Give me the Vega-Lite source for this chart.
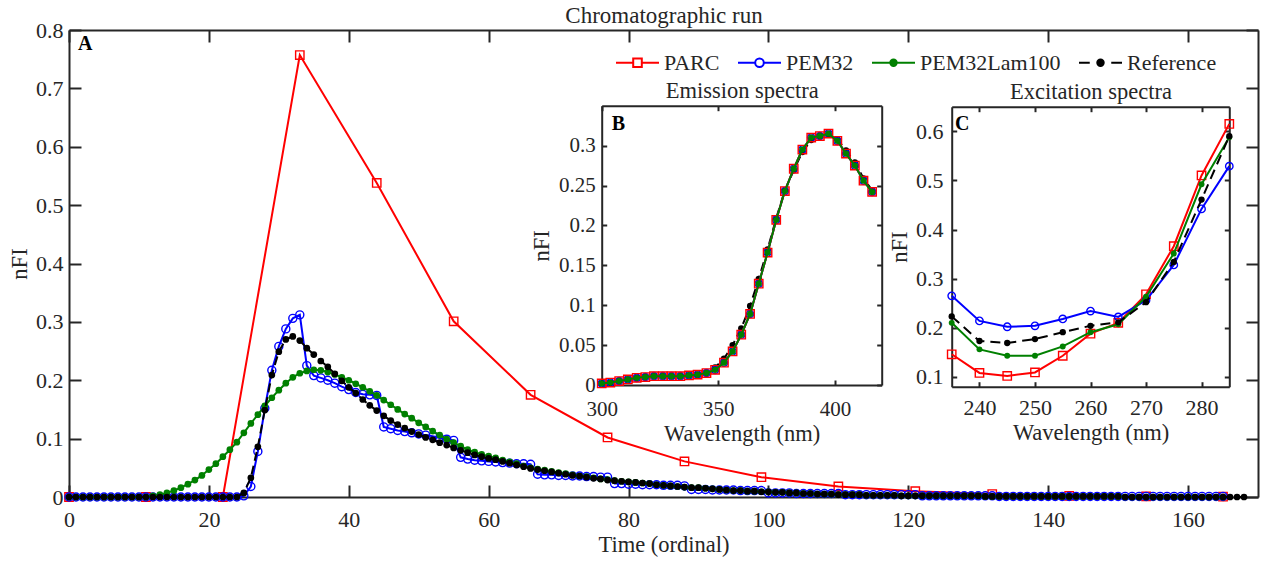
{
"$schema": "https://vega.github.io/schema/vega-lite/v6.json",
"width": 1189, "height": 467,
"autosize": {"type": "none"},
"padding": {"left": 69, "top": 30, "right": 8, "bottom": 66},
"config": {
  "font": "Liberation Serif",
  "view": {"stroke": null},
  "axis": {"grid": false, "domainColor": "#262626", "domainWidth": 2, "tickColor": "#262626", "tickWidth": 2, "labelColor": "#262626", "titleColor": "#262626", "labelFont": "Liberation Serif", "titleFont": "Liberation Serif", "labelFontSize": 22, "titleFontSize": 22.5, "titleFontWeight": "normal", "labelFlush": false, "labelOverlap": false, "format": "~g"},
  "legend": {"labelFont": "Liberation Serif", "labelFontSize": 22, "labelColor": "#262626"}
},
"datasets": {
"main": [
{"series":"PARC","t":0,"v":0},{"series":"PARC","t":11,"v":0},{"series":"PARC","t":22,"v":0},{"series":"PARC","t":33,"v":0.757},{"series":"PARC","t":44,"v":0.538},{"series":"PARC","t":55,"v":0.301},{"series":"PARC","t":66,"v":0.175},{"series":"PARC","t":77,"v":0.102},{"series":"PARC","t":88,"v":0.061},{"series":"PARC","t":99,"v":0.034},{"series":"PARC","t":110,"v":0.018},{"series":"PARC","t":121,"v":0.010},{"series":"PARC","t":132,"v":0.005},{"series":"PARC","t":143,"v":0.002},{"series":"PARC","t":154,"v":0.001},{"series":"PARC","t":165,"v":0.0005},
{"series":"PEM32","t":0,"v":0},{"series":"PEM32","t":1,"v":0},{"series":"PEM32","t":2,"v":0},{"series":"PEM32","t":3,"v":0},{"series":"PEM32","t":4,"v":0},{"series":"PEM32","t":5,"v":0},{"series":"PEM32","t":6,"v":0},{"series":"PEM32","t":7,"v":0},{"series":"PEM32","t":8,"v":0},{"series":"PEM32","t":9,"v":0},
{"series":"PEM32","t":10,"v":0},{"series":"PEM32","t":11,"v":0},{"series":"PEM32","t":12,"v":0},{"series":"PEM32","t":13,"v":0},{"series":"PEM32","t":14,"v":0},{"series":"PEM32","t":15,"v":0},{"series":"PEM32","t":16,"v":0},{"series":"PEM32","t":17,"v":0},{"series":"PEM32","t":18,"v":0},{"series":"PEM32","t":19,"v":0},
{"series":"PEM32","t":20,"v":0},{"series":"PEM32","t":21,"v":0},{"series":"PEM32","t":22,"v":0},{"series":"PEM32","t":23,"v":0},{"series":"PEM32","t":24,"v":0},{"series":"PEM32","t":25,"v":0.002},{"series":"PEM32","t":26,"v":0.018},{"series":"PEM32","t":27,"v":0.078},{"series":"PEM32","t":28,"v":0.152},{"series":"PEM32","t":29,"v":0.217},
{"series":"PEM32","t":30,"v":0.258},{"series":"PEM32","t":31,"v":0.288},{"series":"PEM32","t":32,"v":0.306},{"series":"PEM32","t":33,"v":0.312},{"series":"PEM32","t":34,"v":0.225},{"series":"PEM32","t":35,"v":0.208},{"series":"PEM32","t":36,"v":0.204},{"series":"PEM32","t":37,"v":0.200},{"series":"PEM32","t":38,"v":0.195},{"series":"PEM32","t":39,"v":0.189},
{"series":"PEM32","t":40,"v":0.184},{"series":"PEM32","t":41,"v":0.179},{"series":"PEM32","t":42,"v":0.176},{"series":"PEM32","t":43,"v":0.175},{"series":"PEM32","t":44,"v":0.174},{"series":"PEM32","t":45,"v":0.120},{"series":"PEM32","t":46,"v":0.117},{"series":"PEM32","t":47,"v":0.114},{"series":"PEM32","t":48,"v":0.112},{"series":"PEM32","t":49,"v":0.110},
{"series":"PEM32","t":50,"v":0.108},{"series":"PEM32","t":51,"v":0.106},{"series":"PEM32","t":52,"v":0.104},{"series":"PEM32","t":53,"v":0.101},{"series":"PEM32","t":54,"v":0.099},{"series":"PEM32","t":55,"v":0.097},{"series":"PEM32","t":56,"v":0.068},{"series":"PEM32","t":57,"v":0.065},{"series":"PEM32","t":58,"v":0.063},{"series":"PEM32","t":59,"v":0.062},
{"series":"PEM32","t":60,"v":0.061},{"series":"PEM32","t":61,"v":0.060},{"series":"PEM32","t":62,"v":0.059},{"series":"PEM32","t":63,"v":0.058},{"series":"PEM32","t":64,"v":0.057},{"series":"PEM32","t":65,"v":0.057},{"series":"PEM32","t":66,"v":0.056},{"series":"PEM32","t":67,"v":0.039},{"series":"PEM32","t":68,"v":0.038},{"series":"PEM32","t":69,"v":0.038},
{"series":"PEM32","t":70,"v":0.037},{"series":"PEM32","t":71,"v":0.037},{"series":"PEM32","t":72,"v":0.036},{"series":"PEM32","t":73,"v":0.036},{"series":"PEM32","t":74,"v":0.035},{"series":"PEM32","t":75,"v":0.035},{"series":"PEM32","t":76,"v":0.034},{"series":"PEM32","t":77,"v":0.034},{"series":"PEM32","t":78,"v":0.023},{"series":"PEM32","t":79,"v":0.023},
{"series":"PEM32","t":80,"v":0.022},{"series":"PEM32","t":81,"v":0.022},{"series":"PEM32","t":82,"v":0.021},{"series":"PEM32","t":83,"v":0.021},{"series":"PEM32","t":84,"v":0.021},{"series":"PEM32","t":85,"v":0.020},{"series":"PEM32","t":86,"v":0.020},{"series":"PEM32","t":87,"v":0.020},{"series":"PEM32","t":88,"v":0.019},{"series":"PEM32","t":89,"v":0.013},
{"series":"PEM32","t":90,"v":0.013},{"series":"PEM32","t":91,"v":0.013},{"series":"PEM32","t":92,"v":0.012},{"series":"PEM32","t":93,"v":0.012},{"series":"PEM32","t":94,"v":0.012},{"series":"PEM32","t":95,"v":0.012},{"series":"PEM32","t":96,"v":0.011},{"series":"PEM32","t":97,"v":0.011},{"series":"PEM32","t":98,"v":0.011},{"series":"PEM32","t":99,"v":0.011},
{"series":"PEM32","t":100,"v":0.007},{"series":"PEM32","t":101,"v":0.007},{"series":"PEM32","t":102,"v":0.007},{"series":"PEM32","t":103,"v":0.007},{"series":"PEM32","t":104,"v":0.006},{"series":"PEM32","t":105,"v":0.006},{"series":"PEM32","t":106,"v":0.006},{"series":"PEM32","t":107,"v":0.006},{"series":"PEM32","t":108,"v":0.006},{"series":"PEM32","t":109,"v":0.006},
{"series":"PEM32","t":110,"v":0.006},{"series":"PEM32","t":111,"v":0.004},{"series":"PEM32","t":112,"v":0.004},{"series":"PEM32","t":113,"v":0.004},{"series":"PEM32","t":114,"v":0.004},{"series":"PEM32","t":115,"v":0.004},{"series":"PEM32","t":116,"v":0.004},{"series":"PEM32","t":117,"v":0.004},{"series":"PEM32","t":118,"v":0.004},{"series":"PEM32","t":119,"v":0.004},
{"series":"PEM32","t":120,"v":0.004},{"series":"PEM32","t":121,"v":0.004},{"series":"PEM32","t":122,"v":0.002},{"series":"PEM32","t":123,"v":0.002},{"series":"PEM32","t":124,"v":0.002},{"series":"PEM32","t":125,"v":0.002},{"series":"PEM32","t":126,"v":0.002},{"series":"PEM32","t":127,"v":0.002},{"series":"PEM32","t":128,"v":0.002},{"series":"PEM32","t":129,"v":0.002},
{"series":"PEM32","t":130,"v":0.002},{"series":"PEM32","t":131,"v":0.002},{"series":"PEM32","t":132,"v":0.002},{"series":"PEM32","t":133,"v":0.001},{"series":"PEM32","t":134,"v":0.001},{"series":"PEM32","t":135,"v":0.001},{"series":"PEM32","t":136,"v":0.001},{"series":"PEM32","t":137,"v":0.001},{"series":"PEM32","t":138,"v":0.001},{"series":"PEM32","t":139,"v":0.001},
{"series":"PEM32","t":140,"v":0.001},{"series":"PEM32","t":141,"v":0.001},{"series":"PEM32","t":142,"v":0.001},{"series":"PEM32","t":143,"v":0.001},{"series":"PEM32","t":144,"v":0.001},{"series":"PEM32","t":145,"v":0.001},{"series":"PEM32","t":146,"v":0.001},{"series":"PEM32","t":147,"v":0.001},{"series":"PEM32","t":148,"v":0.001},{"series":"PEM32","t":149,"v":0.001},
{"series":"PEM32","t":150,"v":0.001},{"series":"PEM32","t":151,"v":0.001},{"series":"PEM32","t":152,"v":0.001},{"series":"PEM32","t":153,"v":0.001},{"series":"PEM32","t":154,"v":0.001},{"series":"PEM32","t":155,"v":0.001},{"series":"PEM32","t":156,"v":0.001},{"series":"PEM32","t":157,"v":0.001},{"series":"PEM32","t":158,"v":0.001},{"series":"PEM32","t":159,"v":0.001},
{"series":"PEM32","t":160,"v":0.001},{"series":"PEM32","t":161,"v":0.001},{"series":"PEM32","t":162,"v":0.001},{"series":"PEM32","t":163,"v":0.001},{"series":"PEM32","t":164,"v":0.001},{"series":"PEM32","t":165,"v":0.001},
{"series":"PEM32Lam100","t":0,"v":0},{"series":"PEM32Lam100","t":1,"v":0},{"series":"PEM32Lam100","t":2,"v":0},{"series":"PEM32Lam100","t":3,"v":0},{"series":"PEM32Lam100","t":4,"v":0},{"series":"PEM32Lam100","t":5,"v":0},{"series":"PEM32Lam100","t":6,"v":0},{"series":"PEM32Lam100","t":7,"v":0},{"series":"PEM32Lam100","t":8,"v":0},{"series":"PEM32Lam100","t":9,"v":0},
{"series":"PEM32Lam100","t":10,"v":0},{"series":"PEM32Lam100","t":11,"v":0},{"series":"PEM32Lam100","t":12,"v":0.002},{"series":"PEM32Lam100","t":13,"v":0.004},{"series":"PEM32Lam100","t":14,"v":0.007},{"series":"PEM32Lam100","t":15,"v":0.011},{"series":"PEM32Lam100","t":16,"v":0.016},{"series":"PEM32Lam100","t":17,"v":0.022},{"series":"PEM32Lam100","t":18,"v":0.029},{"series":"PEM32Lam100","t":19,"v":0.037},
{"series":"PEM32Lam100","t":20,"v":0.047},{"series":"PEM32Lam100","t":21,"v":0.057},{"series":"PEM32Lam100","t":22,"v":0.069},{"series":"PEM32Lam100","t":23,"v":0.081},{"series":"PEM32Lam100","t":24,"v":0.094},{"series":"PEM32Lam100","t":25,"v":0.110},{"series":"PEM32Lam100","t":26,"v":0.126},{"series":"PEM32Lam100","t":27,"v":0.141},{"series":"PEM32Lam100","t":28,"v":0.156},{"series":"PEM32Lam100","t":29,"v":0.170},
{"series":"PEM32Lam100","t":30,"v":0.183},{"series":"PEM32Lam100","t":31,"v":0.195},{"series":"PEM32Lam100","t":32,"v":0.205},{"series":"PEM32Lam100","t":33,"v":0.212},{"series":"PEM32Lam100","t":34,"v":0.216},{"series":"PEM32Lam100","t":35,"v":0.218},{"series":"PEM32Lam100","t":36,"v":0.217},{"series":"PEM32Lam100","t":37,"v":0.214},{"series":"PEM32Lam100","t":38,"v":0.210},{"series":"PEM32Lam100","t":39,"v":0.205},
{"series":"PEM32Lam100","t":40,"v":0.200},{"series":"PEM32Lam100","t":41,"v":0.194},{"series":"PEM32Lam100","t":42,"v":0.188},{"series":"PEM32Lam100","t":43,"v":0.181},{"series":"PEM32Lam100","t":44,"v":0.174},{"series":"PEM32Lam100","t":45,"v":0.166},{"series":"PEM32Lam100","t":46,"v":0.158},{"series":"PEM32Lam100","t":47,"v":0.150},{"series":"PEM32Lam100","t":48,"v":0.142},{"series":"PEM32Lam100","t":49,"v":0.135},
{"series":"PEM32Lam100","t":50,"v":0.127},{"series":"PEM32Lam100","t":51,"v":0.120},{"series":"PEM32Lam100","t":52,"v":0.113},{"series":"PEM32Lam100","t":53,"v":0.106},{"series":"PEM32Lam100","t":54,"v":0.099},{"series":"PEM32Lam100","t":55,"v":0.093},{"series":"PEM32Lam100","t":56,"v":0.087},{"series":"PEM32Lam100","t":57,"v":0.081},{"series":"PEM32Lam100","t":58,"v":0.077},{"series":"PEM32Lam100","t":59,"v":0.073},
{"series":"PEM32Lam100","t":60,"v":0.070},{"series":"PEM32Lam100","t":61,"v":0.067},{"series":"PEM32Lam100","t":62,"v":0.063},{"series":"PEM32Lam100","t":63,"v":0.060},{"series":"PEM32Lam100","t":64,"v":0.057},{"series":"PEM32Lam100","t":65,"v":0.053},{"series":"PEM32Lam100","t":66,"v":0.050},{"series":"PEM32Lam100","t":67,"v":0.048},{"series":"PEM32Lam100","t":68,"v":0.046},{"series":"PEM32Lam100","t":69,"v":0.044},
{"series":"PEM32Lam100","t":70,"v":0.042},{"series":"PEM32Lam100","t":71,"v":0.040},{"series":"PEM32Lam100","t":72,"v":0.038},{"series":"PEM32Lam100","t":73,"v":0.036},{"series":"PEM32Lam100","t":74,"v":0.035},{"series":"PEM32Lam100","t":75,"v":0.033},{"series":"PEM32Lam100","t":76,"v":0.031},{"series":"PEM32Lam100","t":77,"v":0.030},{"series":"PEM32Lam100","t":78,"v":0.028},{"series":"PEM32Lam100","t":79,"v":0.027},
{"series":"PEM32Lam100","t":80,"v":0.026},{"series":"PEM32Lam100","t":81,"v":0.025},{"series":"PEM32Lam100","t":82,"v":0.024},{"series":"PEM32Lam100","t":83,"v":0.023},{"series":"PEM32Lam100","t":84,"v":0.021},{"series":"PEM32Lam100","t":85,"v":0.020},{"series":"PEM32Lam100","t":86,"v":0.019},{"series":"PEM32Lam100","t":87,"v":0.018},{"series":"PEM32Lam100","t":88,"v":0.017},{"series":"PEM32Lam100","t":89,"v":0.016},
{"series":"PEM32Lam100","t":90,"v":0.016},{"series":"PEM32Lam100","t":91,"v":0.015},{"series":"PEM32Lam100","t":92,"v":0.014},{"series":"PEM32Lam100","t":93,"v":0.013},{"series":"PEM32Lam100","t":94,"v":0.012},{"series":"PEM32Lam100","t":95,"v":0.011},{"series":"PEM32Lam100","t":96,"v":0.011},{"series":"PEM32Lam100","t":97,"v":0.010},{"series":"PEM32Lam100","t":98,"v":0.010},{"series":"PEM32Lam100","t":99,"v":0.009},
{"series":"PEM32Lam100","t":100,"v":0.009},{"series":"PEM32Lam100","t":101,"v":0.008},{"series":"PEM32Lam100","t":102,"v":0.008},{"series":"PEM32Lam100","t":103,"v":0.007},{"series":"PEM32Lam100","t":104,"v":0.007},{"series":"PEM32Lam100","t":105,"v":0.006},{"series":"PEM32Lam100","t":106,"v":0.006},{"series":"PEM32Lam100","t":107,"v":0.005},{"series":"PEM32Lam100","t":108,"v":0.005},{"series":"PEM32Lam100","t":109,"v":0.005},
{"series":"PEM32Lam100","t":110,"v":0.004},{"series":"PEM32Lam100","t":111,"v":0.004},{"series":"PEM32Lam100","t":112,"v":0.004},{"series":"PEM32Lam100","t":113,"v":0.004},{"series":"PEM32Lam100","t":114,"v":0.003},{"series":"PEM32Lam100","t":115,"v":0.003},{"series":"PEM32Lam100","t":116,"v":0.003},{"series":"PEM32Lam100","t":117,"v":0.003},{"series":"PEM32Lam100","t":118,"v":0.003},{"series":"PEM32Lam100","t":119,"v":0.002},
{"series":"PEM32Lam100","t":120,"v":0.002},{"series":"PEM32Lam100","t":121,"v":0.002},{"series":"PEM32Lam100","t":122,"v":0.002},{"series":"PEM32Lam100","t":123,"v":0.002},{"series":"PEM32Lam100","t":124,"v":0.002},{"series":"PEM32Lam100","t":125,"v":0.002},{"series":"PEM32Lam100","t":126,"v":0.002},{"series":"PEM32Lam100","t":127,"v":0.002},{"series":"PEM32Lam100","t":128,"v":0.002},{"series":"PEM32Lam100","t":129,"v":0.002},
{"series":"PEM32Lam100","t":130,"v":0.002},{"series":"PEM32Lam100","t":131,"v":0.001},{"series":"PEM32Lam100","t":132,"v":0.001},{"series":"PEM32Lam100","t":133,"v":0.001},{"series":"PEM32Lam100","t":134,"v":0.001},{"series":"PEM32Lam100","t":135,"v":0.001},{"series":"PEM32Lam100","t":136,"v":0.001},{"series":"PEM32Lam100","t":137,"v":0.001},{"series":"PEM32Lam100","t":138,"v":0.001},{"series":"PEM32Lam100","t":139,"v":0.001},
{"series":"PEM32Lam100","t":140,"v":0.001},{"series":"PEM32Lam100","t":141,"v":0.001},{"series":"PEM32Lam100","t":142,"v":0.001},{"series":"PEM32Lam100","t":143,"v":0.001},{"series":"PEM32Lam100","t":144,"v":0.001},{"series":"PEM32Lam100","t":145,"v":0.001},{"series":"PEM32Lam100","t":146,"v":0.001},{"series":"PEM32Lam100","t":147,"v":0.001},{"series":"PEM32Lam100","t":148,"v":0.001},{"series":"PEM32Lam100","t":149,"v":0.001},
{"series":"PEM32Lam100","t":150,"v":0.001},{"series":"PEM32Lam100","t":151,"v":0},{"series":"PEM32Lam100","t":152,"v":0},{"series":"PEM32Lam100","t":153,"v":0},{"series":"PEM32Lam100","t":154,"v":0},{"series":"PEM32Lam100","t":155,"v":0},{"series":"PEM32Lam100","t":156,"v":0},{"series":"PEM32Lam100","t":157,"v":0},{"series":"PEM32Lam100","t":158,"v":0},{"series":"PEM32Lam100","t":159,"v":0},
{"series":"PEM32Lam100","t":160,"v":0},{"series":"PEM32Lam100","t":161,"v":0},{"series":"PEM32Lam100","t":162,"v":0},{"series":"PEM32Lam100","t":163,"v":0},{"series":"PEM32Lam100","t":164,"v":0},{"series":"PEM32Lam100","t":165,"v":0},
{"series":"Reference","t":0,"v":0},{"series":"Reference","t":1,"v":0},{"series":"Reference","t":2,"v":0},{"series":"Reference","t":3,"v":0},{"series":"Reference","t":4,"v":0},{"series":"Reference","t":5,"v":0},{"series":"Reference","t":6,"v":0},{"series":"Reference","t":7,"v":0},{"series":"Reference","t":8,"v":0},{"series":"Reference","t":9,"v":0},
{"series":"Reference","t":10,"v":0},{"series":"Reference","t":11,"v":0},{"series":"Reference","t":12,"v":0},{"series":"Reference","t":13,"v":0},{"series":"Reference","t":14,"v":0},{"series":"Reference","t":15,"v":0},{"series":"Reference","t":16,"v":0},{"series":"Reference","t":17,"v":0},{"series":"Reference","t":18,"v":0},{"series":"Reference","t":19,"v":0},
{"series":"Reference","t":20,"v":0},{"series":"Reference","t":21,"v":0},{"series":"Reference","t":22,"v":0},{"series":"Reference","t":23,"v":0},{"series":"Reference","t":24,"v":0},{"series":"Reference","t":25,"v":0.007},{"series":"Reference","t":26,"v":0.033},{"series":"Reference","t":27,"v":0.086},{"series":"Reference","t":28,"v":0.149},{"series":"Reference","t":29,"v":0.209},
{"series":"Reference","t":30,"v":0.249},{"series":"Reference","t":31,"v":0.270},{"series":"Reference","t":32,"v":0.275},{"series":"Reference","t":33,"v":0.268},{"series":"Reference","t":34,"v":0.255},{"series":"Reference","t":35,"v":0.244},{"series":"Reference","t":36,"v":0.233},{"series":"Reference","t":37,"v":0.223},{"series":"Reference","t":38,"v":0.211},{"series":"Reference","t":39,"v":0.199},
{"series":"Reference","t":40,"v":0.188},{"series":"Reference","t":41,"v":0.178},{"series":"Reference","t":42,"v":0.167},{"series":"Reference","t":43,"v":0.157},{"series":"Reference","t":44,"v":0.148},{"series":"Reference","t":45,"v":0.139},{"series":"Reference","t":46,"v":0.131},{"series":"Reference","t":47,"v":0.124},{"series":"Reference","t":48,"v":0.118},{"series":"Reference","t":49,"v":0.112},
{"series":"Reference","t":50,"v":0.107},{"series":"Reference","t":51,"v":0.102},{"series":"Reference","t":52,"v":0.098},{"series":"Reference","t":53,"v":0.093},{"series":"Reference","t":54,"v":0.089},{"series":"Reference","t":55,"v":0.084},{"series":"Reference","t":56,"v":0.080},{"series":"Reference","t":57,"v":0.076},{"series":"Reference","t":58,"v":0.072},{"series":"Reference","t":59,"v":0.069},
{"series":"Reference","t":60,"v":0.066},{"series":"Reference","t":61,"v":0.064},{"series":"Reference","t":62,"v":0.061},{"series":"Reference","t":63,"v":0.058},{"series":"Reference","t":64,"v":0.055},{"series":"Reference","t":65,"v":0.052},{"series":"Reference","t":66,"v":0.049},{"series":"Reference","t":67,"v":0.047},{"series":"Reference","t":68,"v":0.045},{"series":"Reference","t":69,"v":0.043},
{"series":"Reference","t":70,"v":0.041},{"series":"Reference","t":71,"v":0.039},{"series":"Reference","t":72,"v":0.037},{"series":"Reference","t":73,"v":0.036},{"series":"Reference","t":74,"v":0.034},{"series":"Reference","t":75,"v":0.032},{"series":"Reference","t":76,"v":0.031},{"series":"Reference","t":77,"v":0.029},{"series":"Reference","t":78,"v":0.028},{"series":"Reference","t":79,"v":0.027},
{"series":"Reference","t":80,"v":0.026},{"series":"Reference","t":81,"v":0.025},{"series":"Reference","t":82,"v":0.024},{"series":"Reference","t":83,"v":0.023},{"series":"Reference","t":84,"v":0.021},{"series":"Reference","t":85,"v":0.020},{"series":"Reference","t":86,"v":0.019},{"series":"Reference","t":87,"v":0.018},{"series":"Reference","t":88,"v":0.017},{"series":"Reference","t":89,"v":0.016},
{"series":"Reference","t":90,"v":0.016},{"series":"Reference","t":91,"v":0.015},{"series":"Reference","t":92,"v":0.014},{"series":"Reference","t":93,"v":0.013},{"series":"Reference","t":94,"v":0.012},{"series":"Reference","t":95,"v":0.011},{"series":"Reference","t":96,"v":0.011},{"series":"Reference","t":97,"v":0.010},{"series":"Reference","t":98,"v":0.010},{"series":"Reference","t":99,"v":0.009},
{"series":"Reference","t":100,"v":0.009},{"series":"Reference","t":101,"v":0.008},{"series":"Reference","t":102,"v":0.008},{"series":"Reference","t":103,"v":0.007},{"series":"Reference","t":104,"v":0.007},{"series":"Reference","t":105,"v":0.006},{"series":"Reference","t":106,"v":0.006},{"series":"Reference","t":107,"v":0.005},{"series":"Reference","t":108,"v":0.005},{"series":"Reference","t":109,"v":0.005},
{"series":"Reference","t":110,"v":0.004},{"series":"Reference","t":111,"v":0.004},{"series":"Reference","t":112,"v":0.004},{"series":"Reference","t":113,"v":0.004},{"series":"Reference","t":114,"v":0.003},{"series":"Reference","t":115,"v":0.003},{"series":"Reference","t":116,"v":0.003},{"series":"Reference","t":117,"v":0.003},{"series":"Reference","t":118,"v":0.003},{"series":"Reference","t":119,"v":0.002},
{"series":"Reference","t":120,"v":0.002},{"series":"Reference","t":121,"v":0.002},{"series":"Reference","t":122,"v":0.002},{"series":"Reference","t":123,"v":0.002},{"series":"Reference","t":124,"v":0.002},{"series":"Reference","t":125,"v":0.002},{"series":"Reference","t":126,"v":0.002},{"series":"Reference","t":127,"v":0.002},{"series":"Reference","t":128,"v":0.002},{"series":"Reference","t":129,"v":0.002},
{"series":"Reference","t":130,"v":0.002},{"series":"Reference","t":131,"v":0.001},{"series":"Reference","t":132,"v":0.001},{"series":"Reference","t":133,"v":0.001},{"series":"Reference","t":134,"v":0.001},{"series":"Reference","t":135,"v":0.001},{"series":"Reference","t":136,"v":0.001},{"series":"Reference","t":137,"v":0.001},{"series":"Reference","t":138,"v":0.001},{"series":"Reference","t":139,"v":0.001},
{"series":"Reference","t":140,"v":0.001},{"series":"Reference","t":141,"v":0.001},{"series":"Reference","t":142,"v":0.001},{"series":"Reference","t":143,"v":0.001},{"series":"Reference","t":144,"v":0.001},{"series":"Reference","t":145,"v":0.001},{"series":"Reference","t":146,"v":0.001},{"series":"Reference","t":147,"v":0.001},{"series":"Reference","t":148,"v":0.001},{"series":"Reference","t":149,"v":0.001},
{"series":"Reference","t":150,"v":0.001},{"series":"Reference","t":151,"v":0},{"series":"Reference","t":152,"v":0},{"series":"Reference","t":153,"v":0},{"series":"Reference","t":154,"v":0},{"series":"Reference","t":155,"v":0},{"series":"Reference","t":156,"v":0},{"series":"Reference","t":157,"v":0},{"series":"Reference","t":158,"v":0},{"series":"Reference","t":159,"v":0},
{"series":"Reference","t":160,"v":0},{"series":"Reference","t":161,"v":0},{"series":"Reference","t":162,"v":0},{"series":"Reference","t":163,"v":0},{"series":"Reference","t":164,"v":0},{"series":"Reference","t":165,"v":0},{"series":"Reference","t":166,"v":0},{"series":"Reference","t":167,"v":0},{"series":"Reference","t":168,"v":0}
],
"emission": [
{"series":"Reference","wl":300,"v":0.002},{"series":"Reference","wl":303.7,"v":0.003},{"series":"Reference","wl":307.5,"v":0.005},{"series":"Reference","wl":311.2,"v":0.007},{"series":"Reference","wl":315,"v":0.009},{"series":"Reference","wl":318.7,"v":0.010},{"series":"Reference","wl":322.4,"v":0.011},{"series":"Reference","wl":326.2,"v":0.011},{"series":"Reference","wl":329.9,"v":0.011},{"series":"Reference","wl":333.7,"v":0.011},{"series":"Reference","wl":337.4,"v":0.012},{"series":"Reference","wl":341.1,"v":0.013},{"series":"Reference","wl":344.9,"v":0.015},{"series":"Reference","wl":348.6,"v":0.022},{"series":"Reference","wl":352.4,"v":0.033},{"series":"Reference","wl":356.1,"v":0.050},{"series":"Reference","wl":359.8,"v":0.071},{"series":"Reference","wl":363.6,"v":0.099},{"series":"Reference","wl":367.3,"v":0.133},{"series":"Reference","wl":371.1,"v":0.170},{"series":"Reference","wl":374.8,"v":0.209},{"series":"Reference","wl":378.5,"v":0.244},{"series":"Reference","wl":382.3,"v":0.269},{"series":"Reference","wl":386,"v":0.292},{"series":"Reference","wl":389.8,"v":0.307},{"series":"Reference","wl":393.5,"v":0.312},{"series":"Reference","wl":397.2,"v":0.314},{"series":"Reference","wl":401,"v":0.308},{"series":"Reference","wl":404.7,"v":0.294},{"series":"Reference","wl":408.5,"v":0.279},{"series":"Reference","wl":412.2,"v":0.259},{"series":"Reference","wl":415.9,"v":0.244},
{"series":"PEM32","wl":300,"v":0.002},{"series":"PEM32","wl":303.7,"v":0.003},{"series":"PEM32","wl":307.5,"v":0.005},{"series":"PEM32","wl":311.2,"v":0.007},{"series":"PEM32","wl":315,"v":0.009},{"series":"PEM32","wl":318.7,"v":0.010},{"series":"PEM32","wl":322.4,"v":0.011},{"series":"PEM32","wl":326.2,"v":0.011},{"series":"PEM32","wl":329.9,"v":0.011},{"series":"PEM32","wl":333.7,"v":0.011},{"series":"PEM32","wl":337.4,"v":0.012},{"series":"PEM32","wl":341.1,"v":0.013},{"series":"PEM32","wl":344.9,"v":0.015},{"series":"PEM32","wl":348.6,"v":0.019},{"series":"PEM32","wl":352.4,"v":0.028},{"series":"PEM32","wl":356.1,"v":0.042},{"series":"PEM32","wl":359.8,"v":0.063},{"series":"PEM32","wl":363.6,"v":0.089},{"series":"PEM32","wl":367.3,"v":0.127},{"series":"PEM32","wl":371.1,"v":0.166},{"series":"PEM32","wl":374.8,"v":0.207},{"series":"PEM32","wl":378.5,"v":0.243},{"series":"PEM32","wl":382.3,"v":0.271},{"series":"PEM32","wl":386,"v":0.295},{"series":"PEM32","wl":389.8,"v":0.310},{"series":"PEM32","wl":393.5,"v":0.312},{"series":"PEM32","wl":397.2,"v":0.315},{"series":"PEM32","wl":401,"v":0.306},{"series":"PEM32","wl":404.7,"v":0.290},{"series":"PEM32","wl":408.5,"v":0.275},{"series":"PEM32","wl":412.2,"v":0.256},{"series":"PEM32","wl":415.9,"v":0.242},
{"series":"PARC","wl":300,"v":0.002},{"series":"PARC","wl":303.7,"v":0.003},{"series":"PARC","wl":307.5,"v":0.005},{"series":"PARC","wl":311.2,"v":0.007},{"series":"PARC","wl":315,"v":0.009},{"series":"PARC","wl":318.7,"v":0.010},{"series":"PARC","wl":322.4,"v":0.011},{"series":"PARC","wl":326.2,"v":0.011},{"series":"PARC","wl":329.9,"v":0.011},{"series":"PARC","wl":333.7,"v":0.011},{"series":"PARC","wl":337.4,"v":0.012},{"series":"PARC","wl":341.1,"v":0.013},{"series":"PARC","wl":344.9,"v":0.015},{"series":"PARC","wl":348.6,"v":0.019},{"series":"PARC","wl":352.4,"v":0.028},{"series":"PARC","wl":356.1,"v":0.042},{"series":"PARC","wl":359.8,"v":0.063},{"series":"PARC","wl":363.6,"v":0.089},{"series":"PARC","wl":367.3,"v":0.127},{"series":"PARC","wl":371.1,"v":0.166},{"series":"PARC","wl":374.8,"v":0.207},{"series":"PARC","wl":378.5,"v":0.243},{"series":"PARC","wl":382.3,"v":0.271},{"series":"PARC","wl":386,"v":0.295},{"series":"PARC","wl":389.8,"v":0.310},{"series":"PARC","wl":393.5,"v":0.312},{"series":"PARC","wl":397.2,"v":0.315},{"series":"PARC","wl":401,"v":0.306},{"series":"PARC","wl":404.7,"v":0.290},{"series":"PARC","wl":408.5,"v":0.275},{"series":"PARC","wl":412.2,"v":0.256},{"series":"PARC","wl":415.9,"v":0.242},
{"series":"PEM32Lam100","wl":300,"v":0.002},{"series":"PEM32Lam100","wl":303.7,"v":0.003},{"series":"PEM32Lam100","wl":307.5,"v":0.005},{"series":"PEM32Lam100","wl":311.2,"v":0.007},{"series":"PEM32Lam100","wl":315,"v":0.009},{"series":"PEM32Lam100","wl":318.7,"v":0.010},{"series":"PEM32Lam100","wl":322.4,"v":0.011},{"series":"PEM32Lam100","wl":326.2,"v":0.011},{"series":"PEM32Lam100","wl":329.9,"v":0.011},{"series":"PEM32Lam100","wl":333.7,"v":0.011},{"series":"PEM32Lam100","wl":337.4,"v":0.012},{"series":"PEM32Lam100","wl":341.1,"v":0.013},{"series":"PEM32Lam100","wl":344.9,"v":0.015},{"series":"PEM32Lam100","wl":348.6,"v":0.019},{"series":"PEM32Lam100","wl":352.4,"v":0.028},{"series":"PEM32Lam100","wl":356.1,"v":0.042},{"series":"PEM32Lam100","wl":359.8,"v":0.063},{"series":"PEM32Lam100","wl":363.6,"v":0.089},{"series":"PEM32Lam100","wl":367.3,"v":0.127},{"series":"PEM32Lam100","wl":371.1,"v":0.166},{"series":"PEM32Lam100","wl":374.8,"v":0.207},{"series":"PEM32Lam100","wl":378.5,"v":0.243},{"series":"PEM32Lam100","wl":382.3,"v":0.271},{"series":"PEM32Lam100","wl":386,"v":0.295},{"series":"PEM32Lam100","wl":389.8,"v":0.310},{"series":"PEM32Lam100","wl":393.5,"v":0.312},{"series":"PEM32Lam100","wl":397.2,"v":0.315},{"series":"PEM32Lam100","wl":401,"v":0.306},{"series":"PEM32Lam100","wl":404.7,"v":0.290},{"series":"PEM32Lam100","wl":408.5,"v":0.275},{"series":"PEM32Lam100","wl":412.2,"v":0.256},{"series":"PEM32Lam100","wl":415.9,"v":0.242}
],
"excitation": [
{"series":"PARC","wl":235,"v":0.146},{"series":"PARC","wl":240,"v":0.108},{"series":"PARC","wl":245,"v":0.102},{"series":"PARC","wl":250,"v":0.109},{"series":"PARC","wl":255,"v":0.143},{"series":"PARC","wl":260,"v":0.188},{"series":"PARC","wl":265,"v":0.210},{"series":"PARC","wl":270,"v":0.268},{"series":"PARC","wl":275,"v":0.366},{"series":"PARC","wl":280,"v":0.510},{"series":"PARC","wl":285,"v":0.615},
{"series":"PEM32","wl":235,"v":0.265},{"series":"PEM32","wl":240,"v":0.214},{"series":"PEM32","wl":245,"v":0.202},{"series":"PEM32","wl":250,"v":0.204},{"series":"PEM32","wl":255,"v":0.218},{"series":"PEM32","wl":260,"v":0.234},{"series":"PEM32","wl":265,"v":0.222},{"series":"PEM32","wl":270,"v":0.256},{"series":"PEM32","wl":275,"v":0.328},{"series":"PEM32","wl":280,"v":0.442},{"series":"PEM32","wl":285,"v":0.529},
{"series":"PEM32Lam100","wl":235,"v":0.210},{"series":"PEM32Lam100","wl":240,"v":0.156},{"series":"PEM32Lam100","wl":245,"v":0.143},{"series":"PEM32Lam100","wl":250,"v":0.143},{"series":"PEM32Lam100","wl":255,"v":0.162},{"series":"PEM32Lam100","wl":260,"v":0.191},{"series":"PEM32Lam100","wl":265,"v":0.207},{"series":"PEM32Lam100","wl":270,"v":0.263},{"series":"PEM32Lam100","wl":275,"v":0.351},{"series":"PEM32Lam100","wl":280,"v":0.492},{"series":"PEM32Lam100","wl":285,"v":0.588},
{"series":"Reference","wl":235,"v":0.223},{"series":"Reference","wl":240,"v":0.173},{"series":"Reference","wl":245,"v":0.169},{"series":"Reference","wl":250,"v":0.177},{"series":"Reference","wl":255,"v":0.191},{"series":"Reference","wl":260,"v":0.204},{"series":"Reference","wl":265,"v":0.211},{"series":"Reference","wl":270,"v":0.252},{"series":"Reference","wl":275,"v":0.334},{"series":"Reference","wl":280,"v":0.461},{"series":"Reference","wl":285,"v":0.590}
]
},
"resolve": {"scale": {"x": "independent", "y": "independent", "shape": "independent", "stroke": "independent", "fill": "independent"}, "axis": {"x": "independent", "y": "independent"}},
"layer": [
{
 "data": {"name": "main"},
 "layer": [
  {"transform": [{"filter": "datum.series === 'PARC'"}],
   "mark": {"type": "line", "color": "#ff0000", "strokeWidth": 2, "point": {"shape": "square", "filled": false, "stroke": "#ff0000", "color": "#ff0000", "size": 70, "strokeWidth": 1.4}},
   "encoding": {
     "x": {"field": "t", "type": "quantitative", "scale": {"domain": [0, 170], "nice": false, "zero": false},
           "axis": {"orient": "bottom", "values": [0,20,40,60,80,100,120,140,160], "tickSize": -12, "labelPadding": 24, "title": "Time (ordinal)", "titlePadding": 3}},
     "y": {"field": "v", "type": "quantitative", "scale": {"domain": [0, 0.8], "nice": false, "zero": false},
           "axis": {"orient": "left", "values": [0,0.1,0.2,0.3,0.4,0.5,0.6,0.7,0.8], "tickSize": -12, "labelPadding": 18, "title": "nFI", "titlePadding": 4}}
   }},
  {"transform": [{"filter": "datum.series === 'PEM32'"}],
   "mark": {"type": "line", "color": "#0000ff", "strokeWidth": 2, "point": {"shape": "circle", "filled": false, "stroke": "#0000ff", "color": "#0000ff", "size": 65, "strokeWidth": 1.4}},
   "encoding": {"x": {"field": "t", "type": "quantitative"}, "y": {"field": "v", "type": "quantitative"}}},
  {"transform": [{"filter": "datum.series === 'PEM32Lam100'"}],
   "mark": {"type": "line", "color": "#008000", "strokeWidth": 2, "point": {"shape": "circle", "filled": true, "fill": "#008000", "color": "#008000", "size": 45, "strokeWidth": 0}},
   "encoding": {"x": {"field": "t", "type": "quantitative"}, "y": {"field": "v", "type": "quantitative"}}},
  {"transform": [{"filter": "datum.series === 'Reference'"}],
   "mark": {"type": "line", "color": "#000000", "strokeWidth": 2, "strokeDash": [9, 5], "point": {"shape": "circle", "filled": true, "fill": "#000000", "color": "#000000", "size": 45, "strokeWidth": 0}},
   "encoding": {"x": {"field": "t", "type": "quantitative"}, "y": {"field": "v", "type": "quantitative"}}},
  {"data": {"values": [{"label": "A"}]},
   "mark": {"type": "text", "fontWeight": "bold", "fontSize": 20, "align": "left", "baseline": "alphabetic", "color": "#000000"},
   "encoding": {"x": {"datum": 1.3, "type": "quantitative"}, "y": {"datum": 0.766, "type": "quantitative"}, "text": {"field": "label"}}}
 ]
},
{
 "data": {"name": "main"},
 "mark": {"type": "point", "opacity": 0},
 "encoding": {
   "x": {"field": "t", "type": "quantitative", "scale": {"domain": [0, 170], "nice": false, "zero": false},
         "axis": {"orient": "top", "values": [0,20,40,60,80,100,120,140,160], "labels": false, "tickSize": -12, "title": "Chromatographic run", "titlePadding": 2, "titleFontSize": 23}},
   "y": {"field": "v", "type": "quantitative", "scale": {"domain": [0, 0.8], "nice": false, "zero": false},
         "axis": {"orient": "right", "values": [0,0.1,0.2,0.3,0.4,0.5,0.6,0.7,0.8], "labels": false, "tickSize": -12, "title": null}}
 }
},
{
 "data": {"values": [{"series": "PARC"}, {"series": "PEM32"}, {"series": "PEM32Lam100"}, {"series": "Reference"}]},
 "mark": {"type": "point", "opacity": 0},
 "encoding": {
   "shape": {"field": "series", "type": "nominal",
     "scale": {"domain": ["PARC", "PEM32", "PEM32Lam100", "Reference"],
               "range": ["M-1,0H-0.2M0.2,0H1M-0.2,-0.2H0.2V0.2H-0.2Z",
                         "M-1,0H-0.2M0.2,0H1M-0.2,0A0.2,0.2,0,1,1,0.2,0A0.2,0.2,0,1,1,-0.2,0Z",
                         "M-1,0H1M-0.15,0A0.15,0.15,0,1,1,0.15,0A0.15,0.15,0,1,1,-0.15,0Z",
                         "M-1,0H-0.5M0.5,0H1M-0.15,0A0.15,0.15,0,1,1,0.15,0A0.15,0.15,0,1,1,-0.15,0Z"]},
     "legend": {"orient": "none", "legendX": 546, "legendY": 10, "direction": "horizontal", "title": null, "padding": 0, "symbolSize": 1849, "symbolStrokeWidth": 2, "symbolOpacity": 1, "labelOffset": 4, "columnPadding": 14, "labelFontSize": 22}},
   "stroke": {"field": "series", "type": "nominal",
     "scale": {"domain": ["PARC", "PEM32", "PEM32Lam100", "Reference"], "range": ["#ff0000", "#0000ff", "#008000", "#000000"]},
     "legend": {"orient": "none", "legendX": 546, "legendY": 10, "direction": "horizontal", "title": null, "padding": 0, "symbolSize": 1849, "symbolStrokeWidth": 2, "symbolOpacity": 1, "labelOffset": 4, "columnPadding": 14, "labelFontSize": 22}},
   "fill": {"field": "series", "type": "nominal",
     "scale": {"domain": ["PARC", "PEM32", "PEM32Lam100", "Reference"], "range": ["transparent", "transparent", "#008000", "#000000"]},
     "legend": {"orient": "none", "legendX": 546, "legendY": 10, "direction": "horizontal", "title": null, "padding": 0, "symbolSize": 1849, "symbolStrokeWidth": 2, "symbolOpacity": 1, "labelOffset": 4, "columnPadding": 14, "labelFontSize": 22}}
 }
},
{
 "data": {"name": "emission"},
 "layer": [
  {"transform": [{"filter": "datum.series === 'Reference'"}],
   "mark": {"type": "line", "color": "#000000", "strokeWidth": 2, "strokeDash": [9, 5], "point": {"shape": "circle", "filled": true, "fill": "#000000", "color": "#000000", "size": 40, "strokeWidth": 0}},
   "encoding": {
     "x": {"field": "wl", "type": "quantitative", "scale": {"domain": [300, 420], "range": [532.7, 812.7], "nice": false, "zero": false},
           "axis": {"orient": "bottom", "offset": -112, "values": [300, 350, 400], "tickSize": -5, "labelPadding": 18, "labelFontSize": 21, "title": "Wavelength (nm)", "titlePadding": 3}},
     "y": {"field": "v", "type": "quantitative", "scale": {"domain": [0, 0.35], "range": [355, 75.7], "nice": false, "zero": false},
           "axis": {"orient": "left", "offset": -532.7, "values": [0, 0.05, 0.1, 0.15, 0.2, 0.25, 0.3], "tickSize": -5, "labelPadding": 11.5, "labelFontSize": 21, "title": "nFI", "titlePadding": 5}}
   }},
  {"transform": [{"filter": "datum.series === 'PEM32'"}],
   "mark": {"type": "line", "color": "#0000ff", "strokeWidth": 2, "point": {"shape": "circle", "filled": false, "stroke": "#0000ff", "color": "#0000ff", "size": 55, "strokeWidth": 1.3}},
   "encoding": {"x": {"field": "wl", "type": "quantitative"}, "y": {"field": "v", "type": "quantitative"}}},
  {"transform": [{"filter": "datum.series === 'PARC'"}],
   "mark": {"type": "line", "color": "#ff0000", "strokeWidth": 2, "point": {"shape": "square", "filled": false, "stroke": "#ff0000", "color": "#ff0000", "size": 70, "strokeWidth": 1.4}},
   "encoding": {"x": {"field": "wl", "type": "quantitative"}, "y": {"field": "v", "type": "quantitative"}}},
  {"transform": [{"filter": "datum.series === 'PEM32Lam100'"}],
   "mark": {"type": "line", "color": "#008000", "strokeWidth": 2, "point": {"shape": "circle", "filled": true, "fill": "#008000", "color": "#008000", "size": 40, "strokeWidth": 0}},
   "encoding": {"x": {"field": "wl", "type": "quantitative"}, "y": {"field": "v", "type": "quantitative"}}},
  {"data": {"values": [{"label": "B"}]},
   "mark": {"type": "text", "fontWeight": "bold", "fontSize": 20, "align": "left", "baseline": "alphabetic", "color": "#000000"},
   "encoding": {"x": {"datum": 304.3, "type": "quantitative"}, "y": {"datum": 0.32, "type": "quantitative"}, "text": {"field": "label"}}}
 ]
},
{
 "data": {"name": "emission"},
 "mark": {"type": "point", "opacity": 0},
 "encoding": {
   "x": {"field": "wl", "type": "quantitative", "scale": {"domain": [300, 420], "range": [532.7, 812.7], "nice": false, "zero": false},
         "axis": {"orient": "top", "offset": -75.7, "values": [300, 350, 400], "labels": false, "tickSize": -5, "title": "Emission spectra", "titlePadding": 2}},
   "y": {"field": "v", "type": "quantitative", "scale": {"domain": [0, 0.35], "range": [355, 75.7], "nice": false, "zero": false},
         "axis": {"orient": "right", "offset": -376.3, "values": [0, 0.05, 0.1, 0.15, 0.2, 0.25, 0.3], "labels": false, "tickSize": -5, "title": null}}
 }
},
{
 "data": {"name": "excitation"},
 "layer": [
  {"transform": [{"filter": "datum.series === 'PARC'"}],
   "mark": {"type": "line", "color": "#ff0000", "strokeWidth": 2, "point": {"shape": "square", "filled": false, "stroke": "#ff0000", "color": "#ff0000", "size": 70, "strokeWidth": 1.4}},
   "encoding": {
     "x": {"field": "wl", "type": "quantitative", "scale": {"domain": [235, 285], "range": [882.7, 1160.3], "nice": false, "zero": false},
           "axis": {"orient": "bottom", "offset": -110.3, "values": [240, 250, 260, 270, 280], "tickSize": -5, "labelPadding": 15.5, "title": "Wavelength (nm)", "titlePadding": 3}},
     "y": {"field": "v", "type": "quantitative", "scale": {"domain": [0.08, 0.65], "range": [356.7, 76.7], "nice": false, "zero": false},
           "axis": {"orient": "left", "offset": -882.7, "values": [0.1, 0.2, 0.3, 0.4, 0.5, 0.6], "tickSize": -5, "labelPadding": 13.7, "title": "nFI", "titlePadding": 4}}
   }},
  {"transform": [{"filter": "datum.series === 'PEM32'"}],
   "mark": {"type": "line", "color": "#0000ff", "strokeWidth": 2, "point": {"shape": "circle", "filled": false, "stroke": "#0000ff", "color": "#0000ff", "size": 55, "strokeWidth": 1.4}},
   "encoding": {"x": {"field": "wl", "type": "quantitative"}, "y": {"field": "v", "type": "quantitative"}}},
  {"transform": [{"filter": "datum.series === 'PEM32Lam100'"}],
   "mark": {"type": "line", "color": "#008000", "strokeWidth": 2, "point": {"shape": "circle", "filled": true, "fill": "#008000", "color": "#008000", "size": 35, "strokeWidth": 0}},
   "encoding": {"x": {"field": "wl", "type": "quantitative"}, "y": {"field": "v", "type": "quantitative"}}},
  {"transform": [{"filter": "datum.series === 'Reference'"}],
   "mark": {"type": "line", "color": "#000000", "strokeWidth": 2, "strokeDash": [10, 6], "point": {"shape": "circle", "filled": true, "fill": "#000000", "color": "#000000", "size": 40, "strokeWidth": 0}},
   "encoding": {"x": {"field": "wl", "type": "quantitative"}, "y": {"field": "v", "type": "quantitative"}}},
  {"data": {"values": [{"label": "C"}]},
   "mark": {"type": "text", "fontWeight": "bold", "fontSize": 20, "align": "left", "baseline": "alphabetic", "color": "#000000"},
   "encoding": {"x": {"datum": 235.6, "type": "quantitative"}, "y": {"datum": 0.603, "type": "quantitative"}, "text": {"field": "label"}}}
 ]
},
{
 "data": {"name": "excitation"},
 "mark": {"type": "point", "opacity": 0},
 "encoding": {
   "x": {"field": "wl", "type": "quantitative", "scale": {"domain": [235, 285], "range": [882.7, 1160.3], "nice": false, "zero": false},
         "axis": {"orient": "top", "offset": -76.7, "values": [240, 250, 260, 270, 280], "labels": false, "tickSize": -5, "title": "Excitation spectra", "titlePadding": 2}},
   "y": {"field": "v", "type": "quantitative", "scale": {"domain": [0.08, 0.65], "range": [356.7, 76.7], "nice": false, "zero": false},
         "axis": {"orient": "right", "offset": -28.7, "values": [0.1, 0.2, 0.3, 0.4, 0.5, 0.6], "labels": false, "tickSize": -5, "title": null}}
 }
}
]
}
